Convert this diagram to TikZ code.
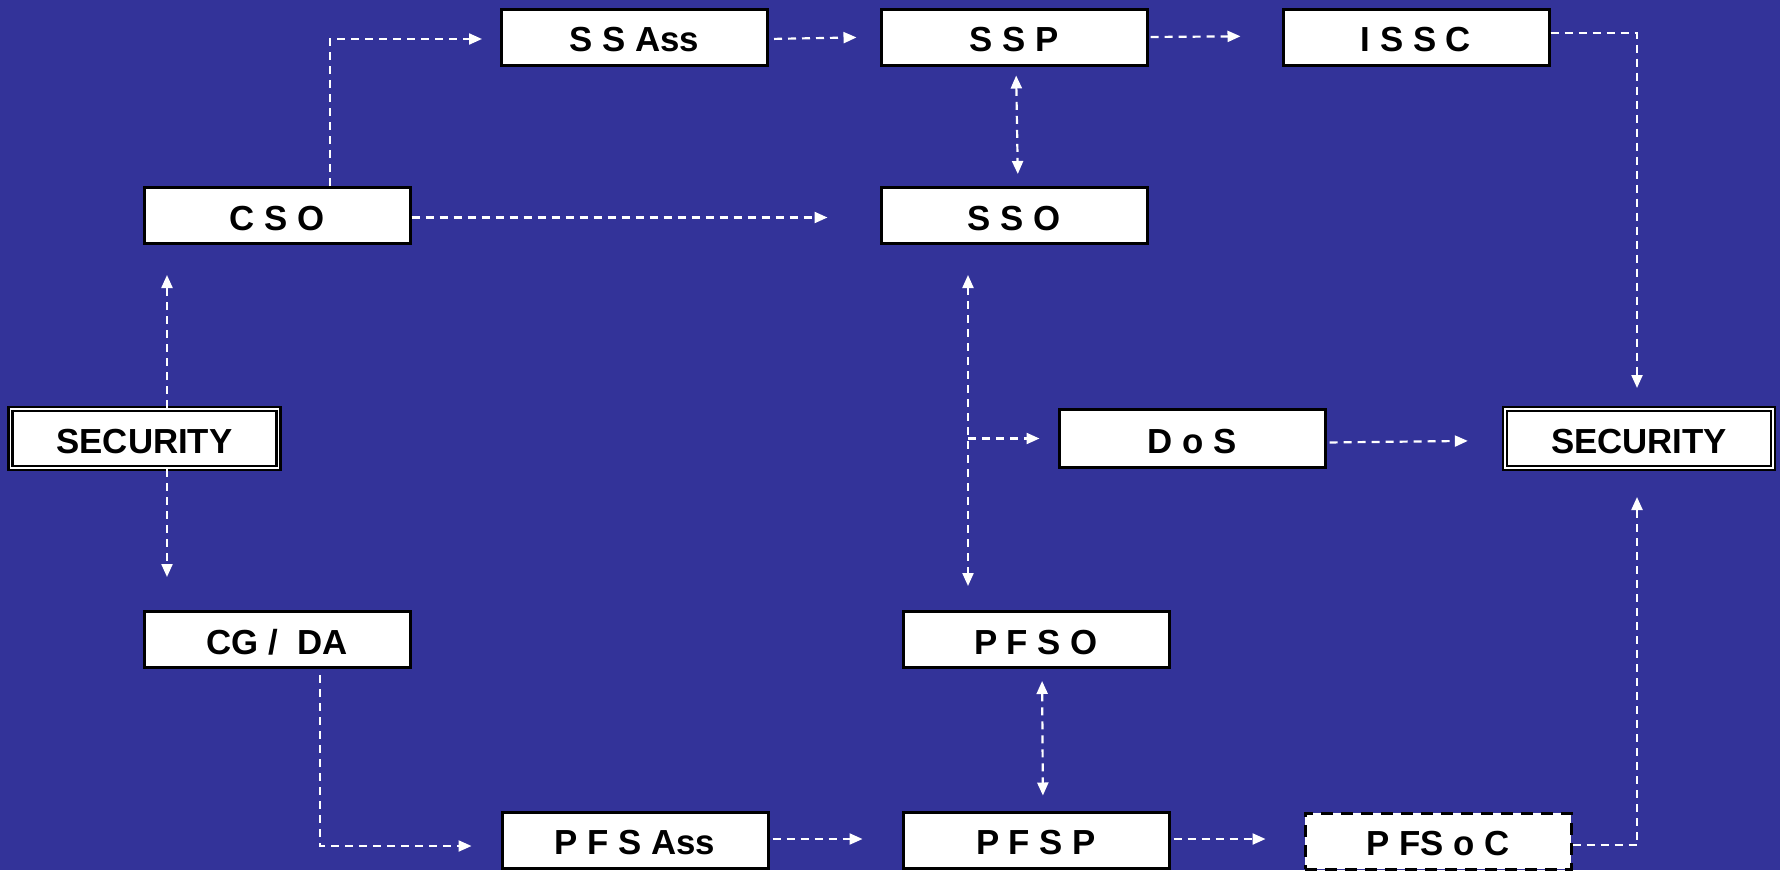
\documentclass[tikz,border=0pt]{standalone}
\usepackage{fontspec}
\setmainfont{Liberation Sans}
\usetikzlibrary{arrows.meta}
\definecolor{bg}{RGB}{51,51,153}
\tikzset{
  box/.style={draw=black, line width=3pt, fill=white, minimum width=266pt, minimum height=56pt, inner sep=0pt,
    text height=29pt, text depth=0pt, font=\fontsize{34.8}{40}\selectfont\bfseries},
  dbox/.style={draw=black, line width=2.4pt, double=white, double distance=1.6pt, fill=white,
    minimum width=268pt, minimum height=58.6pt, inner sep=0pt, text height=29pt, text depth=0pt,
    font=\fontsize{34.8}{40}\selectfont\bfseries},
  dashbox/.style={box, dash pattern=on 12pt off 8pt},
  conn/.style={draw=white, line width=2.2pt, dash pattern=on 8pt off 6pt, -{Triangle[length=13pt,width=11pt]}},
  conn2/.style={draw=white, line width=2.2pt, dash pattern=on 8pt off 6pt, {Triangle[length=13pt,width=11pt]}-{Triangle[length=13pt,width=11pt]}},
}
\begin{document}
\begin{tikzpicture}[x=1pt,y=-1pt]
\fill[bg] (0,0) rectangle (1780,870);
\useasboundingbox (0,0) rectangle (1780,870);
% boxes
\node[box] (ssass) at (634.5,37) {S S Ass};
\node[box] (ssp) at (1014,37) {S S P};
\node[box] (issc) at (1416,37) {I S S C};
\node[box] (cso) at (277,215.5) {C S O};
\node[box] (sso) at (1014,215.5) {S S O};
\node[dbox] (secL) at (144.5,438.5) {SECURITY};
\node[dbox] (secR) at (1639,438.5) {SECURITY};
\node[box, minimum height=58pt] (dos) at (1192,438.5) {D o S};
\node[box] (cgda) at (277,639.5) {CG /\ \ DA};
\node[box] (pfso) at (1036,639.5) {P F S O};
\node[box] (pfsass) at (635,840) {P F S Ass};
\node[box] (pfsp) at (1036,840) {P F S P};
\node[dashbox] (pfsoc) at (1438,841) {P FS o C};
% connectors
\draw[conn, shorten >=18pt] ([xshift=53pt]cso.north) |- ([yshift=-2pt]ssass.west);
\draw[conn, shorten <=5pt, shorten >=23pt] ([yshift=-2pt]ssass.east) -- (ssp.west);
\draw[conn, shorten <=2pt, shorten >=41pt] (ssp.east) -- ([yshift=1pt]issc.west);
\draw[conn, shorten >=20pt] ([yshift=4pt]issc.east) -| ([xshift=-2pt]secR.north);
\draw[conn2, shorten <=9pt, shorten >=12pt] ([xshift=2pt]ssp.south) -- ([xshift=4pt]sso.north);
\draw[conn, shorten >=52pt] ([yshift=-2pt]cso.east) -- ([yshift=-2pt]sso.west);
\draw[conn, shorten >=30pt] ([xshift=22.5pt]secL.north) -- ([xshift=-110pt]cso.south);
\draw[conn, shorten >=33pt] ([xshift=22.5pt]secL.south) -- ([xshift=-110pt]cgda.north);
\draw[conn2, shorten <=30pt, shorten >=24pt] ([xshift=-46pt]sso.south) -- ([xshift=-68pt]pfso.north);
\coordinate (br) at ([xshift=-46pt]sso.south |- dos.west);
\draw[conn, shorten >=18pt] (br) -- (dos.west);
\draw[conn, shorten <=3pt, shorten >=36pt] ([yshift=-4pt]dos.east) -- ([yshift=-2pt]secR.west);
\draw[conn, shorten <=6pt, shorten >=29pt] ([xshift=43pt]cgda.south) |- ([yshift=-6pt]pfsass.west);
\draw[conn, shorten <=3pt, shorten >=39pt] ([yshift=1pt]pfsass.east) -- ([yshift=1pt]pfsp.west);
\draw[conn2, shorten <=12pt, shorten >=15pt] ([xshift=6pt]pfso.south) -- ([xshift=7pt]pfsp.north);
\draw[conn, shorten <=3pt, shorten >=38pt] ([yshift=1pt]pfsp.east) -- ([yshift=2pt]pfsoc.west);
\draw[conn, shorten >=28pt] ([yshift=-4pt]pfsoc.east) -| ([xshift=-2pt]secR.south);
\end{tikzpicture}
\end{document}
